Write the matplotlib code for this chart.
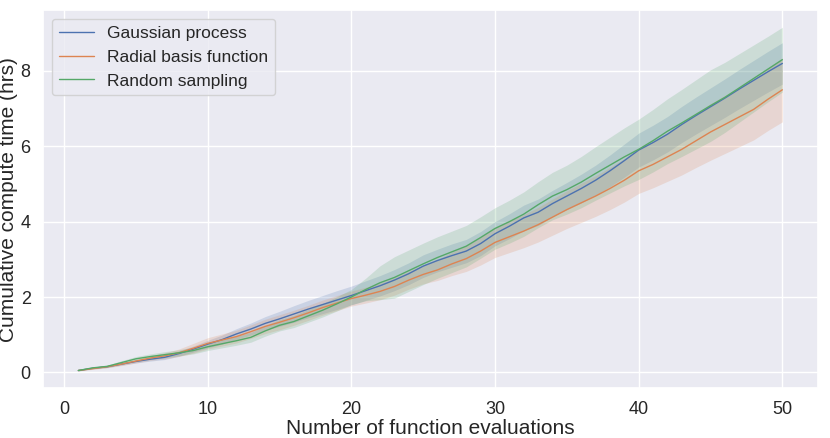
import numpy as np
import matplotlib
matplotlib.use('Agg')
import matplotlib.pyplot as plt
import seaborn as sns

sns.set_theme(style='darkgrid')
plt.rcParams['font.family'] = ['Liberation Sans', 'DejaVu Sans']

# number of function evaluations
evals = np.arange(1, 51)

# mean cumulative compute time (hrs)
gp_mean = [0.05, 0.11, 0.15, 0.22, 0.29, 0.35, 0.40, 0.50, 0.62, 0.75,
           0.87, 1.02, 1.15, 1.30, 1.42, 1.55, 1.68, 1.80, 1.92, 2.04,
           2.17, 2.30, 2.45, 2.62, 2.82, 2.97, 3.10, 3.22, 3.42, 3.68,
           3.88, 4.10, 4.25, 4.48, 4.68, 4.88, 5.10, 5.35, 5.62, 5.90,
           6.10, 6.32, 6.58, 6.82, 7.05, 7.28, 7.52, 7.75, 7.98, 8.20]
rbf_mean = [0.05, 0.10, 0.15, 0.22, 0.30, 0.38, 0.44, 0.52, 0.64, 0.77,
            0.86, 0.95, 1.08, 1.22, 1.33, 1.45, 1.58, 1.72, 1.84, 1.96,
            2.05, 2.15, 2.28, 2.45, 2.60, 2.72, 2.88, 3.02, 3.22, 3.45,
            3.60, 3.75, 3.92, 4.12, 4.32, 4.50, 4.68, 4.88, 5.10, 5.35,
            5.52, 5.72, 5.92, 6.15, 6.38, 6.58, 6.78, 6.98, 7.25, 7.50]
rand_mean = [0.05, 0.12, 0.16, 0.26, 0.36, 0.42, 0.47, 0.52, 0.58, 0.68,
             0.76, 0.84, 0.93, 1.10, 1.25, 1.35, 1.50, 1.65, 1.82, 2.00,
             2.20, 2.38, 2.52, 2.70, 2.88, 3.05, 3.20, 3.35, 3.58, 3.82,
             4.00, 4.20, 4.45, 4.68, 4.85, 5.05, 5.28, 5.50, 5.72, 5.92,
             6.15, 6.40, 6.62, 6.85, 7.08, 7.30, 7.55, 7.80, 8.05, 8.30]

# half width of the shaded band
gp_err = [0.01, 0.02, 0.02, 0.03, 0.04, 0.05, 0.06, 0.07, 0.08, 0.10,
          0.12, 0.14, 0.16, 0.18, 0.20, 0.22, 0.23, 0.24, 0.25, 0.25,
          0.26, 0.27, 0.28, 0.29, 0.30, 0.30, 0.31, 0.31, 0.32, 0.32,
          0.33, 0.34, 0.35, 0.35, 0.36, 0.38, 0.40, 0.42, 0.44, 0.45,
          0.46, 0.47, 0.48, 0.49, 0.50, 0.51, 0.52, 0.53, 0.54, 0.55]
rbf_err = [0.01, 0.02, 0.03, 0.04, 0.05, 0.06, 0.08, 0.10, 0.13, 0.15,
           0.16, 0.17, 0.18, 0.19, 0.20, 0.20, 0.20, 0.20, 0.20, 0.20,
           0.21, 0.22, 0.23, 0.24, 0.25, 0.28, 0.31, 0.34, 0.37, 0.40,
           0.42, 0.44, 0.46, 0.48, 0.50, 0.52, 0.54, 0.56, 0.58, 0.60,
           0.62, 0.65, 0.68, 0.71, 0.75, 0.77, 0.79, 0.81, 0.83, 0.85]
rand_err = [0.01, 0.02, 0.03, 0.05, 0.06, 0.07, 0.08, 0.08, 0.09, 0.10,
            0.11, 0.12, 0.13, 0.14, 0.15, 0.16, 0.17, 0.18, 0.19, 0.20,
            0.30, 0.45, 0.55, 0.55, 0.55, 0.55, 0.55, 0.55, 0.55, 0.55,
            0.57, 0.59, 0.61, 0.63, 0.65, 0.68, 0.71, 0.74, 0.77, 0.80,
            0.83, 0.86, 0.89, 0.92, 0.95, 0.93, 0.91, 0.89, 0.87, 0.86]

series = [('Gaussian process', gp_mean, gp_err),
          ('Radial basis function', rbf_mean, rbf_err),
          ('Random sampling', rand_mean, rand_err)]
colors = sns.color_palette('deep')

fig, ax = plt.subplots(figsize=(8.3, 4.38), dpi=100)
fig.subplots_adjust(left=0.052, right=0.985, bottom=0.114, top=0.977)

for i, (name, m, e) in enumerate(series):
    m = np.array(m)
    e = np.array(e)
    ax.plot(evals, m, color=colors[i], lw=1.0, label=name)
    ax.fill_between(evals, m - e, m + e, color=colors[i], alpha=0.2, lw=0)

ax.set_xlabel('Number of function evaluations', fontsize=15, labelpad=1)
ax.set_ylabel('Cumulative compute time (hrs)', fontsize=15, labelpad=2)
ax.tick_params(labelsize=13, pad=3)
ax.set_yticks([0, 2, 4, 6, 8])
ax.legend(loc='upper left', fontsize=12.5)

plt.savefig('out.png')
